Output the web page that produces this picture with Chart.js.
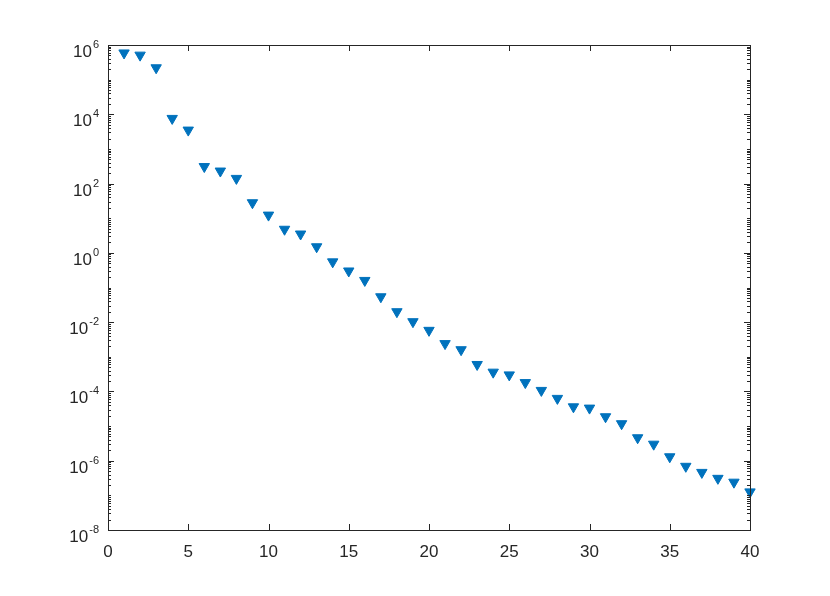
<!DOCTYPE html>
<html>
<head>
<meta charset="utf-8">
<script src="https://cdn.jsdelivr.net/npm/chart.js@4"></script>
<style>
  html, body { margin: 0; padding: 0; background: #fff; }
  #wrap { width: 830px; height: 596px; }
</style>
</head>
<body>
<div id="wrap"><canvas id="chart" width="830" height="596"></canvas></div>
<script>
const xValues = [1,2,3,4,5,6,7,8,9,10,11,12,13,14,15,16,17,18,19,20,
                 21,22,23,24,25,26,27,28,29,30,31,32,33,34,35,36,37,38,39,40]
const yValues = [5.9e5, 5.1e5, 2.2e5, 7.6e3, 3.5e3, 310, 230, 141, 28, 12.3,
                 4.8, 3.5, 1.5, 0.55, 0.30, 0.16, 0.054, 0.020, 0.0103, 0.0058,
                 0.0024, 0.0016, 6.0e-4, 3.6e-4, 3.0e-4, 1.8e-4, 1.07e-4, 6.3e-5, 3.6e-5, 3.3e-5,
                 1.86e-5, 1.17e-5, 4.6e-6, 3.0e-6, 1.3e-6, 6.9e-7, 4.6e-7, 3.1e-7, 2.4e-7, 1.26e-7]
const xTicks = [0,5,10,15,20,25,30,35,40]
const yTickExps = [6,4,2,0,-2,-4,-6,-8]

const axisColor = '#262626'
const font = '"Liberation Sans", Arial, Helvetica, sans-serif'

// box, ticks and labels drawn MATLAB-style
const axesBox = {
  id: 'axesBox',
  afterDraw(chart) {
    const ctx = chart.ctx
    const a = chart.chartArea
    const xs = chart.scales.x
    const ys = chart.scales.y
    ctx.save()
    ctx.strokeStyle = axisColor
    ctx.lineWidth = 1
    ctx.strokeRect(Math.round(a.left) + 0.5, Math.round(a.top) + 0.5,
                   Math.round(a.right - a.left), Math.round(a.bottom - a.top))

    ctx.beginPath()
    xTicks.forEach(v => {
      const px = Math.round(xs.getPixelForValue(v)) + 0.5
      ctx.moveTo(px, a.bottom); ctx.lineTo(px, a.bottom - 6)
      ctx.moveTo(px, a.top); ctx.lineTo(px, a.top + 6)
    })
    for (let e = -8; e <= 6; e++) {
      const py = Math.round(ys.getPixelForValue(Math.pow(10, e))) + 0.5
      const len = (e % 2 === 0) ? 6 : 3
      ctx.moveTo(a.left, py); ctx.lineTo(a.left + len, py)
      ctx.moveTo(a.right, py); ctx.lineTo(a.right - len, py)
      if (e < 6) {
        for (let k = 2; k <= 9; k++) {
          const pm = Math.round(ys.getPixelForValue(k * Math.pow(10, e))) + 0.5
          ctx.moveTo(a.left, pm); ctx.lineTo(a.left + 3, pm)
          ctx.moveTo(a.right, pm); ctx.lineTo(a.right - 3, pm)
        }
      }
    }
    ctx.stroke()

    ctx.fillStyle = axisColor
    ctx.font = '17px ' + font
    ctx.textAlign = 'center'
    ctx.textBaseline = 'alphabetic'
    xTicks.forEach(v => {
      ctx.fillText(String(v), xs.getPixelForValue(v), a.bottom + 27)
    })

    yTickExps.forEach(e => {
      const py = ys.getPixelForValue(Math.pow(10, e))
      const exp = String(e)
      ctx.font = '11px ' + font
      const ew = ctx.measureText(exp).width
      ctx.textAlign = 'left'
      const right = a.left - 9
      ctx.fillText(exp, right - ew, py + 3)
      ctx.font = '17px ' + font
      ctx.textAlign = 'right'
      ctx.fillText('10', right - ew - 1, py + 12)
    })
    ctx.restore()
  }
}

const ctx = document.getElementById('chart').getContext('2d')
const chart = new Chart(ctx, {
  type: 'scatter',
  data: {
    datasets: [{
      data: xValues.map((x, i) => ({ x: x, y: yValues[i] })),
      pointStyle: 'triangle',
      rotation: 180,
      radius: 6,
      backgroundColor: '#0072BD',
      borderColor: '#0072BD',
      borderWidth: 1,
      clip: false
    }]
  },
  options: {
    responsive: false,
    animation: false,
    layout: { padding: { left: 108, right: 80, top: 45, bottom: 66 } },
    plugins: { legend: { display: false }, tooltip: { enabled: false } },
    scales: {
      x: { type: 'linear', min: 0, max: 40, display: false },
      y: { type: 'logarithmic', min: 1e-8, max: 1e6, display: false }
    }
  },
  plugins: [axesBox]
})
</script>
</body>
</html>
